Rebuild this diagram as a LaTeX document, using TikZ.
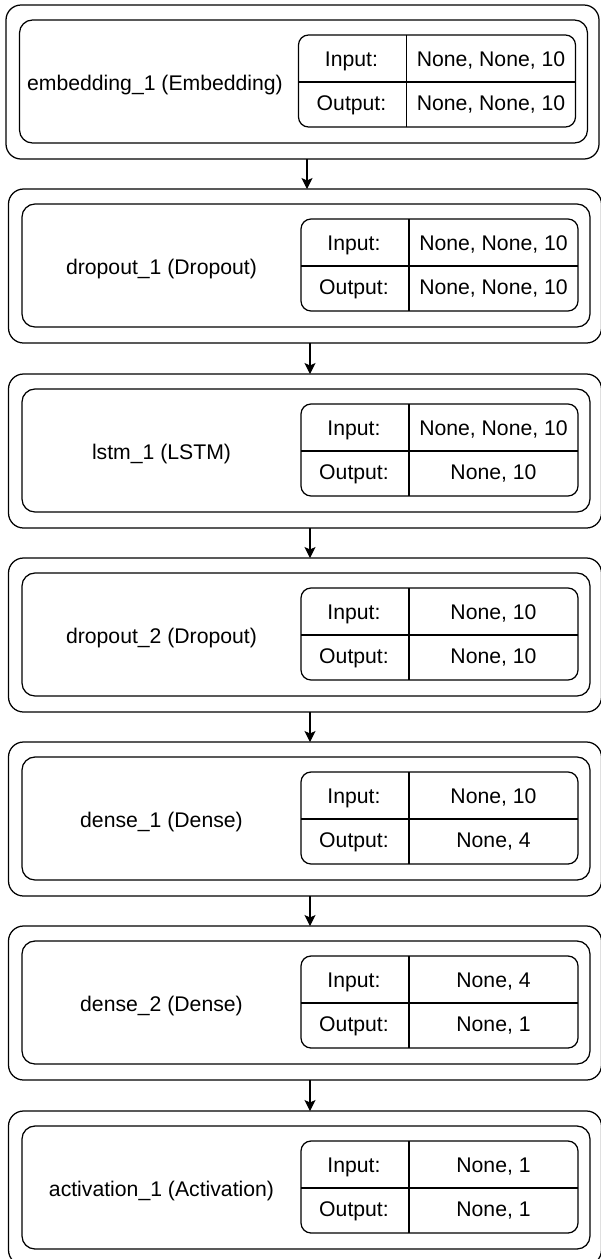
\documentclass[tikz,border=0pt]{standalone}
\usepackage{fontspec}
\setmainfont{Liberation Sans}
\usetikzlibrary{arrows.meta,calc}
\begin{document}
\begin{tikzpicture}[x=1pt,y=-1pt,
  line width=1.25pt,
  font=\fontsize{21.2}{25}\selectfont,
  layerbox/.style={draw,rounded corners=15pt,anchor=north west,inner sep=0pt,outer sep=0pt},
  innerbox/.style={draw,rounded corners=13pt,anchor=north west,inner sep=0pt,outer sep=0pt},
  shapebox/.style={draw,rounded corners=10pt,anchor=north west,inner sep=0pt,outer sep=0pt},
  txt/.style={inner sep=0pt,anchor=base},
  flow/.style={-{Stealth[length=11pt,width=11pt,inset=2.5pt]},line width=1.25pt}]
\useasboundingbox (0,0) rectangle (601,1259);
\fill[white] (0,0) rectangle (601,1259);
\foreach \i/\T/\dx/\lx/\lbl/\inp/\outp in {
  1/5/-2.5/155/{embedding\_1 (Embedding)}/{None, None, 10}/{None, None, 10},
  2/189/0/161.5/{dropout\_1 (Dropout)}/{None, None, 10}/{None, None, 10},
  3/374/0/161.5/{lstm\_1 (LSTM)}/{None, None, 10}/{None, 10},
  4/558/0/161.5/{dropout\_2 (Dropout)}/{None, 10}/{None, 10},
  5/742/0/161.5/{dense\_1 (Dense)}/{None, 10}/{None, 4},
  6/926/0/161.5/{dense\_2 (Dense)}/{None, 4}/{None, 1},
  7/1111/0/161.5/{activation\_1 (Activation)}/{None, 1}/{None, 1}}{
  % outer frame, inner frame and the shape table of one layer
  \node[layerbox,minimum width=593pt,minimum height=154pt] (o\i) at (8.5+\dx,\T) {};
  \node[innerbox,minimum width=568pt,minimum height=123pt] (n\i) at (22+\dx,\T+15) {};
  \node[shapebox,minimum width=277pt,minimum height=92pt] (t\i) at (301+\dx,\T+30) {};
  \coordinate (d\i) at (409+\dx,\T+77);
  \draw (t\i.west |- d\i) -- (t\i.east |- d\i);
  \draw (t\i.north -| d\i) -- (t\i.south -| d\i);
  \node[txt] (l\i) at (\lx,\T+85.5) {\lbl};
  \node[txt] (ki\i) at (354+\dx,\T+61) {Input:};
  \node[txt] (vi\i) at (493.5+\dx,\T+61) {\inp};
  \node[txt] (ko\i) at (354+\dx,\T+105.5) {Output:};
  \node[txt] (vo\i) at (493.5+\dx,\T+105.5) {\outp};
}
% connectors between consecutive layers
\coordinate (a1) at (307,0);
\draw[flow] (o1.south -| a1) -- (o2.north -| a1);
\foreach \i/\j in {2/3,3/4,4/5,5/6,6/7}{
  \coordinate (a\i) at (310,0);
  \draw[flow] (o\i.south -| a\i) -- (o\j.north -| a\i);
}
\end{tikzpicture}
\end{document}
